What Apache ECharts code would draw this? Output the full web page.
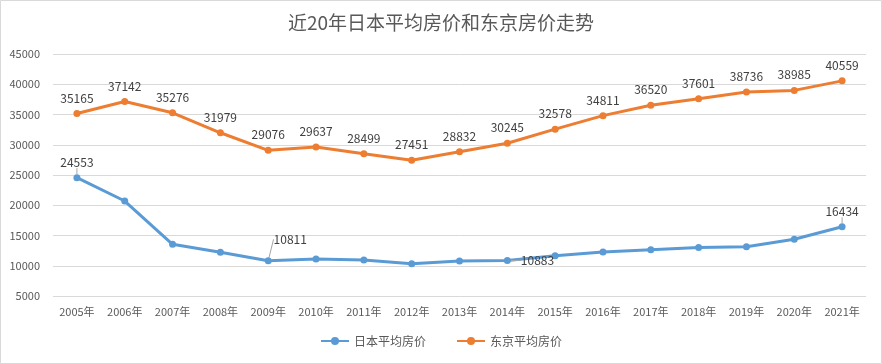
<!DOCTYPE html>
<html><head><meta charset="utf-8">
<script src="https://cdn.jsdelivr.net/npm/echarts@6/dist/echarts.min.js"></script>
<style>html,body{margin:0;padding:0;background:#fff}#c{width:882px;height:364px}</style>
</head><body><div id="c"></div>
<script>
const categories = ['2005年','2006年','2007年','2008年','2009年','2010年','2011年','2012年','2013年','2014年','2015年','2016年','2017年','2018年','2019年','2020年','2021年'];
const japanAvg = [24553,20700,13550,12220,10811,11120,10950,10340,10790,10883,11660,12270,12650,13000,13150,14370,16434];
const tokyoAvg = [35165,37142,35276,31979,29076,29637,28499,27451,28832,30245,32578,34811,36520,37601,38736,38985,40559];
const japanLabeled = [0,4,9,16];
const yTicks = {min:5000,max:45000,interval:5000};
const titleText = '近20年日本平均房价和东京房价走势';
const seriesNames = ['日本平均房价','东京平均房价'];

const font = '"Noto Sans CJK SC", "Liberation Sans", sans-serif';
const chart = echarts.init(document.getElementById('c'), null, {renderer:'canvas'});
const japanData = japanAvg.map((v,i)=>{
  const item = {value:v};
  if (japanLabeled.indexOf(i) >= 0) {
    item.label = {show:true};
    if (i === 9) item.label = {show:true, position:'right', distance:10, offset:[0,3]};
  }
  return item;
});
chart.setOption({
  animation:false,
  backgroundColor:'#fff',
  title:{text:titleText,left:'center',top:8,textStyle:{fontFamily:font,fontSize:19,fontWeight:'normal',color:'#595959'}},
  grid:{left:53,right:16,top:54,bottom:68},
  legend:{bottom:12,left:'center',itemWidth:28,itemHeight:10,itemGap:30,
    textStyle:{fontFamily:font,fontSize:12,color:'#595959'},data:seriesNames},
  xAxis:{type:'category',data:categories,boundaryGap:true,
    axisLine:{show:false},axisTick:{show:false},
    axisLabel:{fontFamily:font,fontSize:11,color:'#595959',margin:10,interval:0}},
  yAxis:{type:'value',min:yTicks.min,max:yTicks.max,interval:yTicks.interval,
    axisLine:{show:false},axisTick:{show:false},
    axisLabel:{fontFamily:font,fontSize:11,color:'#595959',margin:13,formatter:v=>String(v)},
    splitLine:{lineStyle:{color:'#d9d9d9',width:1}}},
  series:[
    {name:seriesNames[0],type:'line',data:japanData,symbol:'circle',symbolSize:7,
      itemStyle:{color:'#5B9BD5'},lineStyle:{width:3,color:'#5B9BD5'},
      label:{show:false,position:'top',distance:6,fontFamily:font,fontSize:12,color:'#404040'},
      labelLine:{show:true,lineStyle:{color:'#a6a6a6',width:1}},
      labelLayout:function(p){ if(p.dataIndex===4) return {dx:22,dy:-6}; return {}; }
    },
    {name:seriesNames[1],type:'line',data:tokyoAvg,symbol:'circle',symbolSize:7,
      itemStyle:{color:'#ED7D31'},lineStyle:{width:3,color:'#ED7D31'},
      label:{show:true,position:'top',distance:6,fontFamily:font,fontSize:12,color:'#404040'}}
  ],
  graphic:[{type:'rect',shape:{x:0.5,y:0.5,width:881,height:363},style:{fill:null,stroke:'#d9d9d9',lineWidth:1},silent:true}]
});
</script></body></html>
